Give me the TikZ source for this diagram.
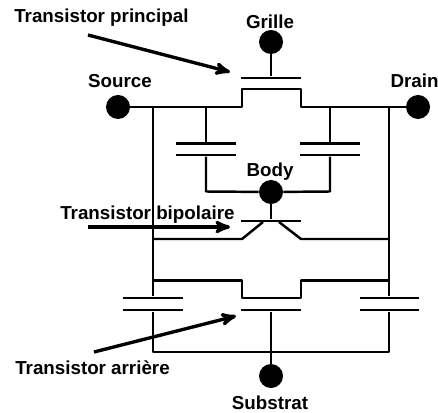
\documentclass[tikz,border=0pt]{standalone}
\usepackage{fontspec}
\setmainfont{Liberation Sans}
\usepackage{tikz}
\usetikzlibrary{
        arrows,
        shapes.geometric
    }
\tikzset{>=stealth',x=0.025cm,y=-0.025cm}
\tikzset{terminal/.style={circle,fill=black,inner sep=0pt,minimum size=0.6cm}}
\tikzset{plate/.style={rectangle,fill=black,inner sep=0pt,minimum width=1.475cm,minimum height=0.068cm}}
\tikzset{wire/.style={line width=1.75pt,line join=round}}
\tikzset{pointer/.style={->,line width=2.4pt,shorten >=0pt}}
\tikzset{tag/.style={inner sep=0pt,font=\bfseries\fontsize{13.35}{16}\selectfont}}

\begin{document}
\begin{tikzpicture}
            \useasboundingbox (0,0) rectangle (438,412);
            % terminals
            \node[terminal] (source) at (118,107) {};
            \node[terminal] (grille) at (271,42) {};
            \node[terminal] (drain) at (418,107) {};
            \node[terminal] (body) at (271,192) {};
            \node[terminal] (substrat) at (271,376) {};
            % plates
            \node[plate] (gatePrinc) at (271,78) {};
            \node[plate] (gateBip) at (271,221) {};
            \node[plate] (gateArr) at (271,310) {};
            \node[plate] (capSrcA) at (206,143.5) {};
            \node[plate] (capSrcB) at (206,155) {};
            \node[plate] (capDrnA) at (330,143.5) {};
            \node[plate] (capDrnB) at (330,155) {};
            \node[plate] (capLeftA) at (153,298) {};
            \node[plate] (capLeftB) at (153,310) {};
            \node[plate] (capRightA) at (389,298) {};
            \node[plate] (capRightB) at (389,310) {};
            % junctions
            \coordinate (railL) at (153,107);
            \coordinate (railR) at (389,107);
            \coordinate (tapS) at (206,107);
            \coordinate (tapD) at (330,107);
            \coordinate (princA) at (242,107);
            \coordinate (princB) at (242,89);
            \coordinate (princC) at (301,89);
            \coordinate (princD) at (301,107);
            \coordinate (bodyL) at (206,191.5);
            \coordinate (bodyR) at (330,191.5);
            \coordinate (bipL) at (153,239);
            \coordinate (bipA) at (242,239);
            \coordinate (bipB) at (263,222);
            \coordinate (bipC) at (279,222);
            \coordinate (bipD) at (301,239);
            \coordinate (bipR) at (389,239);
            \coordinate (arrL) at (153,280.5);
            \coordinate (arrA) at (242,280.5);
            \coordinate (arrB) at (242,298);
            \coordinate (arrC) at (301,298);
            \coordinate (arrD) at (301,280.5);
            \coordinate (arrR) at (389,280.5);
            \coordinate (botL) at (153,352);
            \coordinate (botM) at (271,352);
            \coordinate (botR) at (389,352);
            % wires
            \draw[wire] (source) -- (railL) -- (tapS) -- (princA) -- (princB) -- (princC) -- (princD) -- (tapD) -- (railR) -- (drain);
            \draw[wire] (grille) -- (gatePrinc);
            \draw[wire] (tapS) -- (capSrcA);
            \draw[wire] (capSrcB) -- (bodyL) -- (body);
            \draw[wire] (tapD) -- (capDrnA);
            \draw[wire] (capDrnB) -- (bodyR) -- (body);
            \draw[wire] (body) -- (gateBip);
            \draw[wire] (railL) -- (capLeftA);
            \draw[wire] (railR) -- (capRightA);
            \draw[wire] (bipL) -- (bipA) -- (bipB);
            \draw[wire] (bipC) -- (bipD) -- (bipR);
            \draw[wire] (arrL) -- (arrA) -- (arrB) -- (arrC) -- (arrD) -- (arrR);
            \draw[wire] (capLeftB) -- (botL) -- (botM) -- (botR) -- (capRightB);
            \draw[wire] (gateArr) -- (substrat);
            % labels
            \node[tag,anchor=base west] (lblPrinc) at (14,23) {Transistor principal};
            \node[tag,anchor=base] (lblGrille) at (270,29) {Grille};
            \node[tag,anchor=base] (lblSource) at (120,88) {Source};
            \node[tag,anchor=base] (lblDrain) at (414.5,88) {Drain};
            \node[tag,anchor=base] (lblBody) at (270,177) {Body};
            \node[tag,anchor=base west] (lblBip) at (60,219) {Transistor bipolaire};
            \node[tag,anchor=base west] (lblArr) at (15,374) {Transistor arrière};
            \node[tag,anchor=base] (lblSubstrat) at (270,409) {Substrat};
            % pointers
            \coordinate (tailPrinc) at (88,35);
            \coordinate (tipPrinc) at (230,72);
            \coordinate (tailBip) at (88,227);
            \coordinate (tipBip) at (230,227);
            \coordinate (tailArr) at (94,352);
            \coordinate (tipArr) at (236,316);
            \draw[pointer] (tailPrinc) -- (tipPrinc);
            \draw[pointer] (tailBip) -- (tipBip);
            \draw[pointer] (tailArr) -- (tipArr);
        \end{tikzpicture}
\end{document}
